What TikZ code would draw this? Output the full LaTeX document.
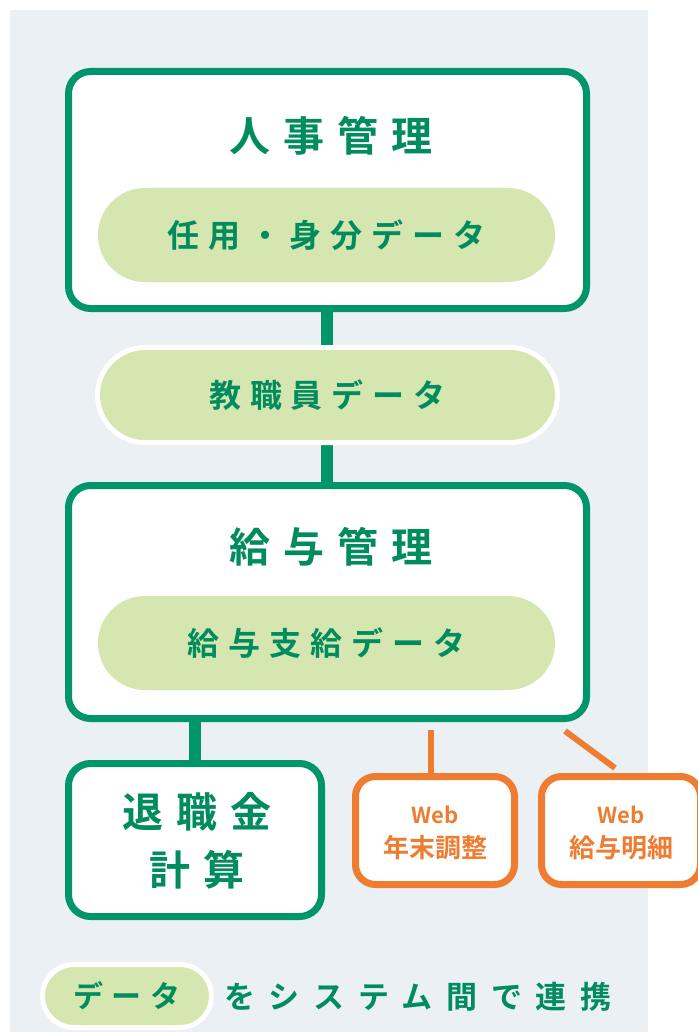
\documentclass[tikz,border=0pt]{standalone}
\usepackage{fontspec}
\usetikzlibrary{shapes.misc}
\newfontfamily\jpt[LetterSpace=32,BoldFont={Noto Sans CJK JP Bold}]{Noto Sans CJK JP}
\newfontfamily\jpp[LetterSpace=28,BoldFont={Noto Sans CJK JP Bold}]{Noto Sans CJK JP}
\newfontfamily\jpl[LetterSpace=44,BoldFont={Noto Sans CJK JP Bold}]{Noto Sans CJK JP}
\newfontfamily\jpo[BoldFont={Noto Sans CJK JP Bold}]{Noto Sans CJK JP}
\definecolor{grn}{HTML}{00956A}
\definecolor{txtg}{HTML}{008C5E}
\definecolor{pillf}{HTML}{D6E6B0}
\definecolor{bgc}{HTML}{EAF0F4}
\definecolor{org}{HTML}{EE7D31}
\tikzset{
  sysbox/.style={draw=grn, line width=7pt, fill=white, rounded corners=22pt, inner sep=0pt},
  webbox/.style={draw=org, line width=7pt, fill=white, rounded corners=20pt, inner sep=0pt, align=center, text=org, font=\jpo\bfseries\fontsize{22}{34}\selectfont},
  pill/.style={rounded rectangle, fill=pillf, inner sep=0pt, text=txtg},
  opill/.style={pill, draw=white, line width=5pt},
  ttl/.style={text=txtg, font=\jpt\bfseries\fontsize{41}{52}\selectfont, inner sep=0pt, align=center},
  ptxt/.style={font=\jpp\bfseries\fontsize{32}{36}\selectfont},
  gconn/.style={draw=grn, line width=12pt},
  oconn/.style={draw=org, line width=6pt}
}
\begin{document}
\begin{tikzpicture}[x=1pt,y=-1pt]
\useasboundingbox (0,0) rectangle (697,1032);
\fill[bgc] (10,10) rectangle (648,1032);
% connectors (behind)
\coordinate (c1a) at (327,305);
\coordinate (c1b) at (327,350);
\coordinate (c2a) at (327,440);
\coordinate (c2b) at (327,488);
\coordinate (c3a) at (195,715);
\coordinate (c3b) at (195,766);
\draw[gconn] (c1a) -- (c1b);
\draw[gconn] (c2a) -- (c2b);
\draw[gconn] (c3a) -- (c3b);
% main boxes
\node[sysbox, minimum width=518pt, minimum height=237pt] (hr) at (327.5,190) {};
\node[ttl] (hrt) at (331,136) {人事管理};
\node[pill, ptxt, minimum width=457pt, minimum height=94pt] (hrd) at (326.5,235) {任用・身分データ};
\node[opill, ptxt, minimum width=460pt, minimum height=95pt] (emp) at (327.5,395) {教職員データ};
\node[sysbox, minimum width=518pt, minimum height=233pt] (pay) at (327.5,602) {};
\node[ttl] (payt) at (331,547) {給与管理};
\node[pill, ptxt, minimum width=457pt, minimum height=94pt] (payd) at (326.5,643) {給与支給データ};
\node[sysbox, minimum width=253pt, minimum height=153pt] (ret) at (195,840) {};
\node[ttl, font=\jpt\bfseries\fontsize{41}{58}\selectfont] (rett) at (197,841) {退職金\\計算};
% web boxes
\node[webbox, minimum width=159pt, minimum height=108pt] (w1) at (435,830.5) {};
\node[webbox, minimum width=159pt, minimum height=108pt] (w2) at (621,830.5) {};
\node[webbox, draw=none, fill=none, rounded corners=0pt] (w1t) at (435,833) {Web\\{\fontsize{26}{30}\selectfont 年末調整}};
\node[webbox, draw=none, fill=none, rounded corners=0pt] (w2t) at (621,833) {Web\\{\fontsize{26}{30}\selectfont 給与明細}};
\coordinate (o1a) at (431,730);
\coordinate (o2a) at (565,731);
\coordinate (o2b) at (615,768);
\draw[oconn] (o1a) -- (w1.north -| o1a);
\draw[oconn] (o2a) -- (o2b);
% legend
\node[opill, font=\jpp\bfseries\fontsize{30}{36}\selectfont, minimum width=169pt, minimum height=63pt] (leg) at (127,996) {データ};
\node[anchor=west, text=txtg, font=\jpl\bfseries\fontsize{31}{36}\selectfont, inner sep=0pt] (legt) at (224,997) {をシステム間で連携};
\end{tikzpicture}
\end{document}
